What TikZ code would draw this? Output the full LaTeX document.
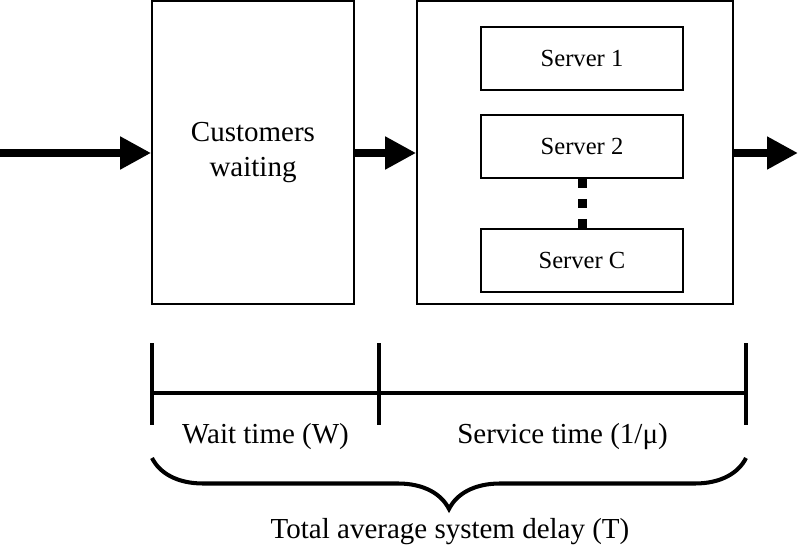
\documentclass[tikz,border=0pt]{standalone}
\usepackage{fontspec}
\setmainfont{Liberation Serif}
\usetikzlibrary{arrows.meta, positioning, decorations.pathreplacing}

\begin{document}
\begin{tikzpicture}[
    x=0.02cm, y=-0.02cm,
    box/.style={draw, line width=1pt, rectangle, align=center, inner sep=0pt},
    serverbox/.style={box, minimum width=4.04cm, minimum height=1.26cm, font=\fontsize{14}{16}\selectfont},
    flow/.style={line width=4.5pt, -{Triangle[length=0.62cm, width=0.62cm]}},
    timeline/.style={line width=2.3pt},
    lbl/.style={font=\fontsize{16.5}{20}\selectfont, align=center}
  ]
  \useasboundingbox (0,0) rectangle (800,550);

  % waiting area
  \node[box, lbl, minimum width=4.04cm, minimum height=6.06cm] (queue) at (253,152.5) {Customers\\waiting};

  % service area with its servers
  \node[box, minimum width=6.32cm, minimum height=6.06cm] (service) at (575,152.5) {};
  \node[serverbox] (server1) at (582,58.5) {Server 1};
  \node[serverbox, below=0.465cm of server1] (server2) {Server 2};
  \node[serverbox, below=0.985cm of server2] (serverC) {Server C};
  \draw[line width=0.18cm, dash pattern=on 0.18cm off 0.22cm] (server2.south) -- (serverC.north);

  % customer flow
  \coordinate (in) at (0,153);
  \coordinate (out) at (798,153);
  \draw[flow] (in) -- (queue.west |- in);
  \draw[flow] (queue.east |- in) -- (service.west |- in);
  \draw[flow] (service.east |- in) -- (out);

  % time line
  \foreach \x/\n in {152/a, 379/b, 746/c} {
    \coordinate (tick\n) at (\x,393);
    \draw[timeline] (\x,343) -- (\x,425);
  }
  \draw[timeline] (ticka) -- (tickc);
  \node[lbl] (waitlbl) at (265.5,437) {Wait time (W)};
  \node[lbl] (servicelbl) at (562.5,437) {Service time (1/μ)};

  % total delay
  \coordinate (bracea) at (152,458);
  \coordinate (bracec) at (746,458);
  \draw[timeline, decorate, decoration={brace, mirror, amplitude=1.02cm}] (bracea) -- (bracec);
  \node[lbl] (total) at (450,532) {Total average system delay (T)};
\end{tikzpicture}
\end{document}
